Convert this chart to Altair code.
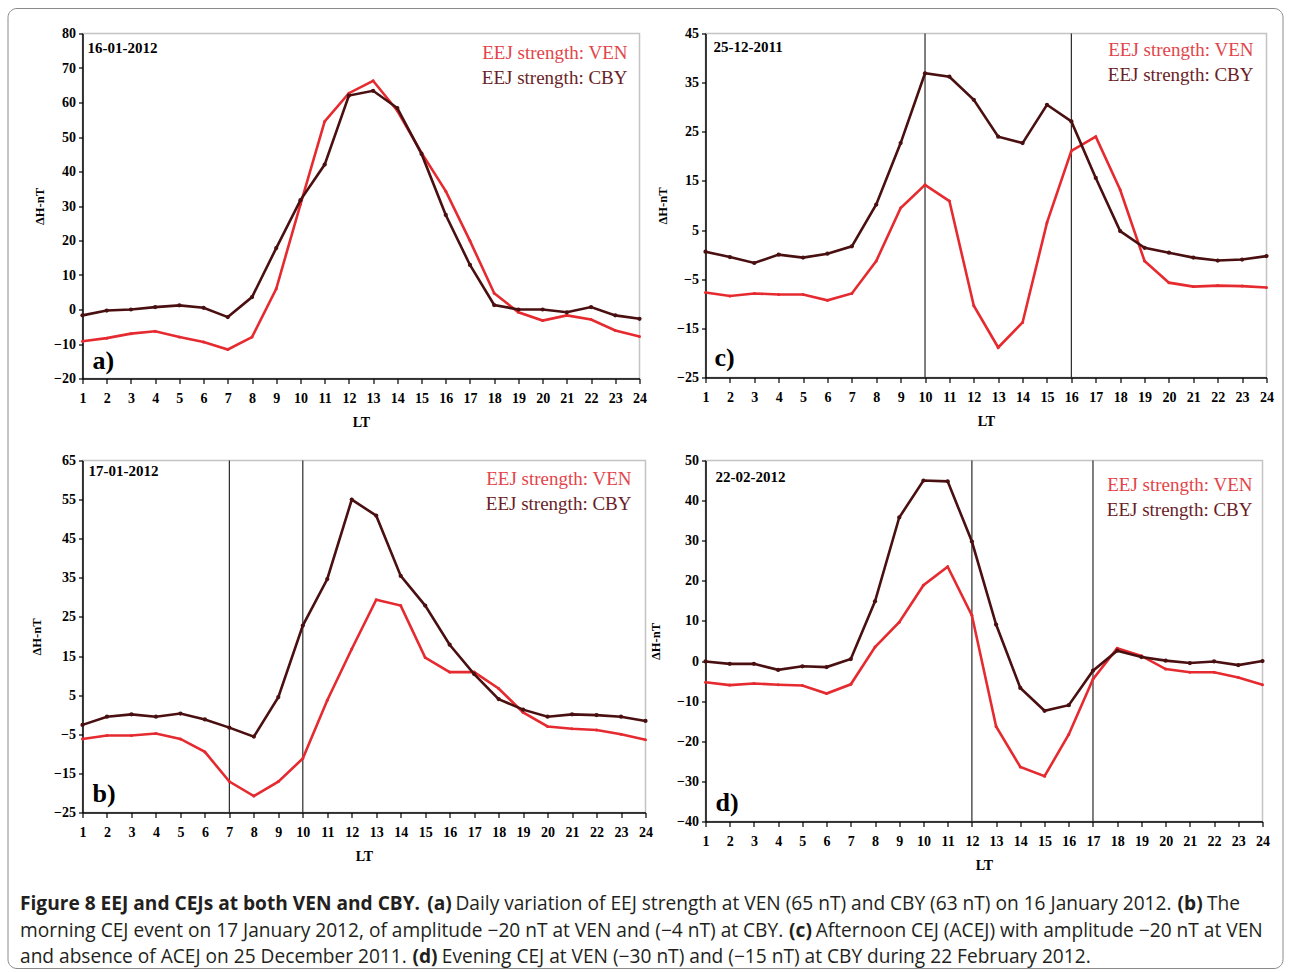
import altair as alt
import pandas as pd

# ---------------- data ----------------
LT = list(range(1, 25))

A_VEN = [-9.2, -8.3, -7.0, -6.3, -8.0, -9.4, -11.6, -8.0, 6.0, 30.5, 54.5, 62.7,
         66.3, 57.6, 45.4, 34.3, 19.9, 4.7, -0.8, -3.2, -1.7, -2.9, -6.1, -7.8]
A_CBY = [-1.7, -0.3, 0.0, 0.7, 1.2, 0.5, -2.2, 3.6, 17.8, 31.7, 42.0, 62.0,
         63.4, 58.4, 45.1, 27.4, 12.9, 1.3, 0.0, 0.0, -0.8, 0.7, -1.7, -2.7]

C_VEN = [-7.7, -8.4, -7.9, -8.1, -8.1, -9.3, -7.9, -1.3, 9.5, 14.2, 10.9, -10.4,
         -18.9, -13.8, 6.5, 21.1, 24.0, 13.2, -1.3, -5.7, -6.5, -6.3, -6.4, -6.7]
C_CBY = [0.6, -0.5, -1.7, 0.0, -0.6, 0.2, 1.7, 10.2, 22.7, 36.9, 36.2, 31.5,
         24.0, 22.7, 30.5, 27.1, 15.6, 4.8, 1.4, 0.4, -0.6, -1.2, -1.0, -0.3]

B_VEN = [-6.2, -5.3, -5.3, -4.8, -6.2, -9.5, -17.1, -20.8, -17.1, -11.2, 3.7, 16.8,
         29.4, 27.9, 14.6, 10.9, 10.9, 6.7, 0.6, -3.0, -3.6, -3.9, -5.0, -6.4]
B_CBY = [-2.6, -0.5, 0.1, -0.5, 0.3, -1.2, -3.3, -5.6, 4.5, 22.8, 34.7, 55.0,
         50.9, 35.5, 27.9, 17.9, 10.4, 4.0, 1.3, -0.5, 0.1, -0.1, -0.5, -1.6]

D_VEN = [-5.3, -6.0, -5.6, -5.9, -6.1, -8.1, -5.8, 3.5, 9.7, 18.9, 23.5, 11.4,
         -16.3, -26.4, -28.7, -18.3, -4.5, 3.2, 1.3, -2.0, -2.8, -2.8, -4.1, -5.9]
D_CBY = [-0.1, -0.7, -0.7, -2.2, -1.3, -1.5, 0.5, 14.9, 35.8, 45.0, 44.8, 29.8,
         9.1, -6.7, -12.4, -11.0, -2.4, 2.6, 1.0, 0.1, -0.5, -0.1, -1.0, 0.0]

EVENTS = {"a": [], "c": [10, 16], "b": [7, 10], "d": [12, 17]}
DATES = {"a": "16-01-2012", "c": "25-12-2011", "b": "17-01-2012", "d": "22-02-2012"}
Y_DOMAINS = {"a": (-20, 80), "c": (-25, 45), "b": (-25, 65), "d": (-40, 50)}
LEGEND = ["EEJ strength: VEN", "EEJ strength: CBY"]
Y_TITLE = "ΔH-nT"
X_TITLE = "LT"

CAPTION = [
    [("Figure 8 EEJ and CEJs at both VEN and CBY.", True), ("(a)", True),
     ("Daily variation of EEJ strength at VEN (65 nT) and CBY (63 nT) on 16 January 2012.", False),
     ("(b)", True), ("The", False)],
    [("morning CEJ event on 17 January 2012, of amplitude −20 nT at VEN and (−4 nT) at CBY.", False),
     ("(c)", True), ("Afternoon CEJ (ACEJ) with amplitude −20 nT at VEN", False)],
    [("and absence of ACEJ on 25 December 2011.", False), ("(d)", True),
     ("Evening CEJ at VEN (−30 nT) and (−15 nT) at CBY during 22 February 2012.", False)],
]

# ---------------- styling ----------------
VEN_COLOR = "#e52a30"
CBY_COLOR = "#4a0f10"
VEN_TEXT = "#e2454b"
CBY_TEXT = "#6a1e27"
SERIF = "Liberation Serif"
CAP_FONT = "Open Sans"

# per-panel geometry (view sizes and annotation offsets)
LAYOUT = {
    "a": dict(w=557, h=345, tpad=7, date=(5, 14), lab=(10, 18), leg=(12, 19)),
    "c": dict(w=561, h=344, tpad=7, date=(8, 13), lab=(9, 20), leg=(13, 16)),
    "b": dict(w=563, h=352, tpad=10, date=(6, 10), lab=(10, 19), leg=(14, 18)),
    "d": dict(w=557, h=361, tpad=14, date=(10, 16), lab=(10, 19), leg=(10, 24)),
}
COL_PAD = 60
ROW_PAD = 82


def panel(key, ven, cby):
    L = LAYOUT[key]
    w, h = L["w"], L["h"]
    ymin, ymax = Y_DOMAINS[key]
    df = pd.DataFrame({
        "LT": LT + LT,
        "value": ven + cby,
        "station": ["VEN"] * len(LT) + ["CBY"] * len(LT),
    })
    x = alt.X("LT:Q", scale=alt.Scale(domain=[1, 24], nice=False, zero=False),
              axis=alt.Axis(values=LT, title=X_TITLE, labelPadding=8, titlePadding=10,
                            labelFlush=False, labelOverlap=False))
    y = alt.Y("value:Q", scale=alt.Scale(domain=[ymin, ymax], nice=False, zero=False),
              axis=alt.Axis(values=list(range(ymin, ymax + 1, 10)), title=Y_TITLE,
                            titlePadding=L["tpad"], labelFlush=False, labelOverlap=False))
    base = alt.Chart(df)
    layers = []
    if EVENTS[key]:
        layers.append(
            alt.Chart(pd.DataFrame({"LT": EVENTS[key]}))
            .mark_rule(color="#2a2a2a", strokeWidth=1.2)
            .encode(x=x)
        )
    layers.append(
        base.transform_filter("datum.station == 'VEN'")
        .mark_line(color=VEN_COLOR, strokeWidth=2.6,
                   point=alt.OverlayMarkDef(color=VEN_COLOR, size=9, filled=True))
        .encode(x=x, y=y)
    )
    layers.append(
        base.transform_filter("datum.station == 'CBY'")
        .mark_line(color=CBY_COLOR, strokeWidth=2.6,
                   point=alt.OverlayMarkDef(color=CBY_COLOR, size=18, filled=True))
        .encode(x=x, y=y)
    )
    one = pd.DataFrame({"t": [DATES[key]]})
    layers.append(
        alt.Chart(one).mark_text(font=SERIF, fontSize=15, fontWeight="bold", color="black",
                                 align="left", baseline="middle")
        .encode(text="t:N", x=alt.value(L["date"][0]), y=alt.value(L["date"][1]))
    )
    layers.append(
        alt.Chart(pd.DataFrame({"t": [key + ")"]}))
        .mark_text(font=SERIF, fontSize=26, fontWeight="bold", color="black",
                   align="left", baseline="middle")
        .encode(text="t:N", x=alt.value(L["lab"][0]), y=alt.value(h - L["lab"][1]))
    )
    for i, (txt, col) in enumerate(zip(LEGEND, [VEN_TEXT, CBY_TEXT])):
        layers.append(
            alt.Chart(pd.DataFrame({"t": [txt]}))
            .mark_text(font=SERIF, fontSize=19, color=col, align="right", baseline="middle")
            .encode(text="t:N", x=alt.value(w - L["leg"][0]), y=alt.value(L["leg"][1] + 25.5 * i))
        )
    return alt.layer(*layers).properties(width=w, height=h)


# ---------------- caption ----------------
OS_W = {' ': 532, '.': 545, ',': 502, '(': 604, ')': 604, '-': 659, '−': 1171, ':': 545,
        'A': 1296, 'B': 1327, 'C': 1292, 'D': 1493, 'E': 1139, 'F': 1057, 'G': 1491, 'H': 1511,
        'I': 571, 'J': 547, 'K': 1257, 'L': 1063, 'M': 1849, 'N': 1544, 'O': 1595, 'P': 1233,
        'Q': 1595, 'R': 1266, 'S': 1124, 'T': 1133, 'U': 1491, 'V': 1219, 'W': 1896, 'X': 1182,
        'Y': 1147, 'Z': 1169, 'a': 1139, 'b': 1255, 'c': 975, 'd': 1255, 'e': 1149, 'f': 694,
        'g': 1122, 'h': 1257, 'i': 518, 'j': 518, 'k': 1075, 'l': 518, 'm': 1905, 'n': 1257,
        'o': 1237, 'p': 1255, 'q': 1255, 'r': 836, 's': 977, 't': 723, 'u': 1257, 'v': 1026,
        'w': 1593, 'x': 1073, 'y': 1028, 'z': 977}


def tw(s, size, bold):
    w = sum(OS_W.get(ch, 1171) for ch in s) / 2048.0 * size
    return w * (1.062 if bold else 1.0)


LINE2_TARGET = 1243.0
unit = sum(tw(t, 1.0, b) for t, b in CAPTION[1]) + tw(" ", 1.0, False) * (len(CAPTION[1]) - 1)
CAP_SIZE = round(LINE2_TARGET / unit, 2)

PANEL_X0 = 82.5          # page x of the left column
CAP_Y0 = 33 + 345 + ROW_PAD + 361 + ROW_PAD   # page y of caption cell
rows = []
for li, line in enumerate(CAPTION):
    cx = 20.0
    for t, b in line:
        rows.append({"text": t, "bold": b, "px": cx - PANEL_X0, "py": [0, 27, 53][li]})
        cx += tw(t, CAP_SIZE, b) + tw(" ", CAP_SIZE, False)
cap_df = pd.DataFrame(rows)

cap_base = alt.Chart(cap_df).encode(
    x=alt.X("px:Q", scale=None, axis=None),
    y=alt.Y("py:Q", scale=None, axis=None),
    text="text:N",
)
cap_bold = cap_base.transform_filter("datum.bold").mark_text(
    font=CAP_FONT, fontSize=CAP_SIZE, fontWeight="bold", color="#231f20",
    align="left", baseline="middle")
cap_norm = cap_base.transform_filter("!datum.bold").mark_text(
    font=CAP_FONT, fontSize=CAP_SIZE, color="#231f20", align="left", baseline="middle")

border = alt.Chart(pd.DataFrame({"k": [0]})).mark_rect(
    filled=False, stroke="#8a8a8a", strokeWidth=1, cornerRadius=9
).encode(
    x=alt.value(8 - PANEL_X0), x2=alt.value(1283 - PANEL_X0),
    y=alt.value(8 - CAP_Y0), y2=alt.value(968 - CAP_Y0),
)

caption = alt.layer(border, cap_norm, cap_bold).properties(
    width=1, height=1, view=alt.ViewBackground(strokeOpacity=0)
)

chart = alt.concat(
    panel("a", A_VEN, A_CBY),
    panel("c", C_VEN, C_CBY),
    panel("b", B_VEN, B_CBY),
    panel("d", D_VEN, D_CBY),
    caption,
    columns=2,
    spacing={"row": ROW_PAD, "column": COL_PAD},
    bounds="flush",
    align="each",
).properties(
    padding={"left": 7.5, "top": 7.5, "right": 6, "bottom": 3},
    background="white",
).configure_view(
    stroke="#c4c4c4", strokeWidth=1.5
).configure_axis(
    domainColor="black", domainWidth=1.5, tickColor="black", tickWidth=1.2,
    labelFont=SERIF, labelFontSize=14, labelFontWeight="bold", labelColor="black",
    titleFont=SERIF, titleFontWeight="bold", titleColor="black", grid=False,
).configure_axisX(
    tickSize=5, titleFontSize=14,
).configure_axisY(
    tickSize=4, labelPadding=3, titleFontSize=12.5,
)

chart.save("out.html", embed_options={"renderer": "svg", "actions": False})
